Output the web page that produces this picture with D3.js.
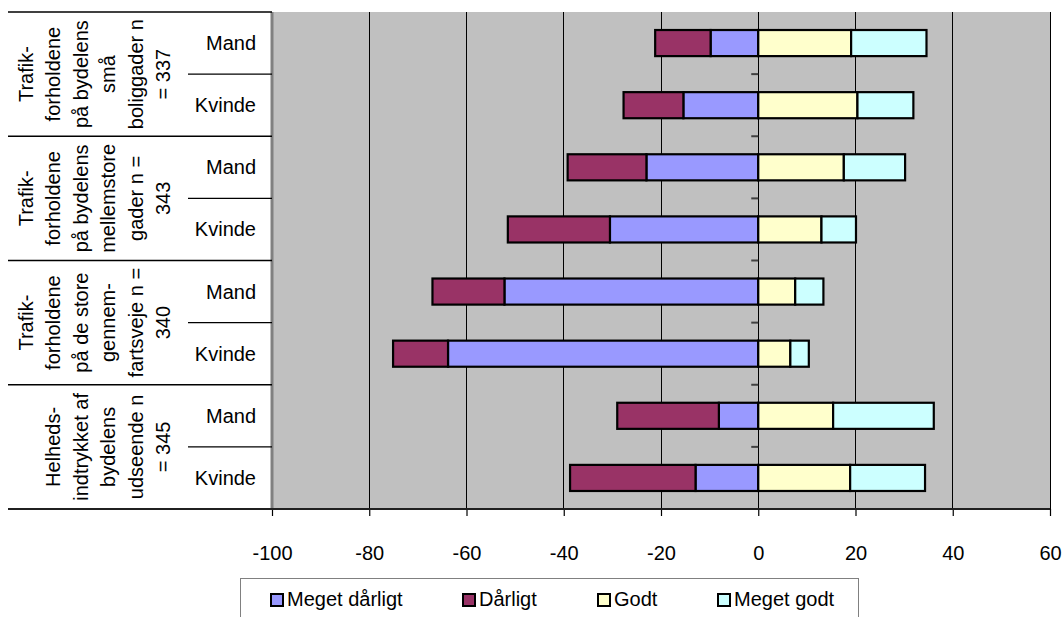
<!DOCTYPE html>
<html>
<head>
<meta charset="utf-8">
<script src="https://cdn.jsdelivr.net/npm/d3@7"></script>
<style>
  html, body { margin: 0; padding: 0; background: #ffffff; }
  svg { display: block; font-family: "Liberation Sans", Arial, sans-serif; }
</style>
</head>
<body>
<svg id="chart" width="1063" height="617"></svg>
<script>
// Response categories, drawn outward from zero in this order
const seriesNames = ["Meget dårligt", "Dårligt", "Godt", "Meget godt"];
const seriesColors = ["#9999FF", "#993366", "#FFFFCC", "#CCFFFF"];

// Question groups (multi-line labels) and the sexes within each group
const groupLabels = [
  ["Trafik-", "forholdene", "på bydelens", "små", "boliggader n", "= 337"],
  ["Trafik-", "forholdene", "på bydelens", "mellemstore", "gader n =", "343"],
  ["Trafik-", "forholdene", "på de store", "gennem-", "fartsveje n =", "340"],
  ["Helheds-", "indtrykket af", "bydelens", "udseende n", "= 345"]
];
const sexes = ["Mand", "Kvinde"];

// Percent per row (group 1 Mand, group 1 Kvinde, group 2 Mand, ...)
const megetDaarligt = [9.8, 15.4, 23.0, 30.5, 52.2, 63.8, 8.1, 12.9];
const daarligt      = [11.4, 12.3, 16.2, 21.0, 14.8, 11.3, 20.9, 25.8];
const godt          = [19.1, 20.4, 17.6, 13.0, 7.6, 6.6, 15.4, 18.9];
const megetGodt     = [15.5, 11.5, 12.6, 7.1, 5.8, 3.8, 20.7, 15.4];

const xTicks = [-100, -80, -60, -40, -20, 0, 20, 40, 60];

const FONT_SIZE = 20;

const svg = d3.select("#chart");
const plot = { left: 272, right: 1050, top: 12, bottom: 509 };

const x = d3.scaleLinear().domain([-100, 60]).range([plot.left, plot.right]);

const rowIds = d3.range(groupLabels.length * sexes.length);
const y = d3.scaleBand()
  .domain(rowIds)
  .range([plot.top, plot.bottom])
  .paddingInner(0.58)
  .paddingOuter(0.29);

// Plot background
svg.append("rect")
  .attr("x", plot.left).attr("y", plot.top)
  .attr("width", plot.right - plot.left).attr("height", plot.bottom - plot.top)
  .attr("fill", "#C0C0C0");

// Vertical gridlines
svg.append("g")
  .selectAll("line")
  .data(xTicks)
  .join("line")
  .attr("x1", d => x(d)).attr("x2", d => x(d))
  .attr("y1", plot.top).attr("y2", plot.bottom)
  .attr("stroke", "#000").attr("stroke-width", 1)
  .attr("shape-rendering", "crispEdges");

// Category ticks on the zero line, between rows
svg.append("g")
  .selectAll("line")
  .data(d3.range(1, rowIds.length))
  .join("line")
  .attr("x1", x(0) - 7).attr("x2", x(0))
  .attr("y1", d => y(d) - y.step() * y.paddingInner() / 2)
  .attr("y2", d => y(d) - y.step() * y.paddingInner() / 2)
  .attr("stroke", "#404040").attr("stroke-width", 2);

// Stacked segments: negatives leftwards from zero, positives rightwards
const rows = rowIds.map(i => ({
  i,
  vals: [megetDaarligt[i], daarligt[i], godt[i], megetGodt[i]]
}));
const segments = [];
rows.forEach(r => {
  const md = r.vals[0], d = r.vals[1], g = r.vals[2], mg = r.vals[3];
  segments.push({ row: r.i, s: 0, x0: -md, x1: 0 });
  segments.push({ row: r.i, s: 1, x0: -md - d, x1: -md });
  segments.push({ row: r.i, s: 2, x0: 0, x1: g });
  segments.push({ row: r.i, s: 3, x0: g, x1: g + mg });
});

svg.append("g")
  .selectAll("rect")
  .data(segments)
  .join("rect")
  .attr("x", d => x(d.x0))
  .attr("width", d => x(d.x1) - x(d.x0))
  .attr("y", d => y(d.row))
  .attr("height", y.bandwidth())
  .attr("fill", d => seriesColors[d.s])
  .attr("stroke", "#000")
  .attr("stroke-width", 2.2);

// Left edge of plot area
svg.append("line")
  .attr("x1", plot.left).attr("x2", plot.left)
  .attr("y1", plot.top).attr("y2", plot.bottom)
  .attr("stroke", "#808080").attr("stroke-width", 3);

// Value axis at the bottom
const xAxis = d3.axisBottom(x).tickValues(xTicks).tickSize(7).tickPadding(30)
  .tickFormat(d3.format("d"));
const gx = svg.append("g")
  .attr("transform", `translate(0,${plot.bottom})`)
  .call(xAxis);
gx.select(".domain").remove();
gx.selectAll(".tick line").attr("stroke", "#000").attr("stroke-width", 1.2);
gx.selectAll(".tick text")
  .attr("font-size", FONT_SIZE)
  .attr("font-family", "Liberation Sans, Arial, sans-serif")
  .attr("fill", "#000")
  .text(d => d < 0 ? "-" + Math.abs(d) : String(d));
svg.append("line")
  .attr("x1", 8).attr("x2", plot.right)
  .attr("y1", plot.bottom).attr("y2", plot.bottom)
  .attr("stroke", "#202020").attr("stroke-width", 2);

// Multi-level category labels on the left
const groupStep = (plot.bottom - plot.top) / groupLabels.length;
const groupTop = gi => plot.top + gi * groupStep;

// Group separators
svg.append("g")
  .selectAll("line")
  .data(d3.range(groupLabels.length))
  .join("line")
  .attr("x1", 8).attr("x2", plot.left)
  .attr("y1", d => groupTop(d)).attr("y2", d => groupTop(d))
  .attr("stroke", "#000").attr("stroke-width", 1.3);

// Separators between Mand and Kvinde
svg.append("g")
  .selectAll("line")
  .data(d3.range(groupLabels.length))
  .join("line")
  .attr("x1", 188).attr("x2", plot.left)
  .attr("y1", d => groupTop(d) + groupStep / 2).attr("y2", d => groupTop(d) + groupStep / 2)
  .attr("stroke", "#000").attr("stroke-width", 1.3);

// Sex labels
svg.append("g")
  .selectAll("text")
  .data(rowIds)
  .join("text")
  .attr("x", 256)
  .attr("y", d => y(d) + y.bandwidth() / 2)
  .attr("dy", "0.35em")
  .attr("text-anchor", "end")
  .attr("font-size", FONT_SIZE)
  .attr("fill", "#000")
  .text(d => sexes[d % sexes.length]);

// Rotated group labels, last line nearest the sex labels
const lineGap = 27.5;
const lastLineX = 163;
groupLabels.forEach((lines, gi) => {
  const cy = groupTop(gi) + groupStep / 2;
  const n = lines.length;
  svg.append("g")
    .selectAll("text")
    .data(lines)
    .join("text")
    .attr("transform", (d, li) => `translate(${lastLineX - (n - 1 - li) * lineGap},${cy}) rotate(-90)`)
    .attr("text-anchor", "middle")
    .attr("dominant-baseline", "central")
    .attr("font-size", FONT_SIZE)
    .attr("fill", "#000")
    .text(d => d);
});

// Legend
const legendX = [270, 462, 597, 717];
const legend = svg.append("g");
legend.append("rect")
  .attr("x", 240.5).attr("y", 578.5)
  .attr("width", 618).attr("height", 60)
  .attr("fill", "#fff").attr("stroke", "#808080").attr("stroke-width", 1);
const items = legend.selectAll("g.item")
  .data(seriesNames)
  .join("g")
  .attr("class", "item")
  .attr("transform", (d, i) => `translate(${legendX[i]},593)`);
items.append("rect")
  .attr("x", 1).attr("y", 1).attr("width", 12).attr("height", 12)
  .attr("fill", (d, i) => seriesColors[i])
  .attr("stroke", "#000").attr("stroke-width", 2);
items.append("text")
  .attr("x", 17).attr("y", 13)
  .attr("font-size", FONT_SIZE)
  .attr("fill", "#000")
  .text(d => d);
</script>
</body>
</html>
